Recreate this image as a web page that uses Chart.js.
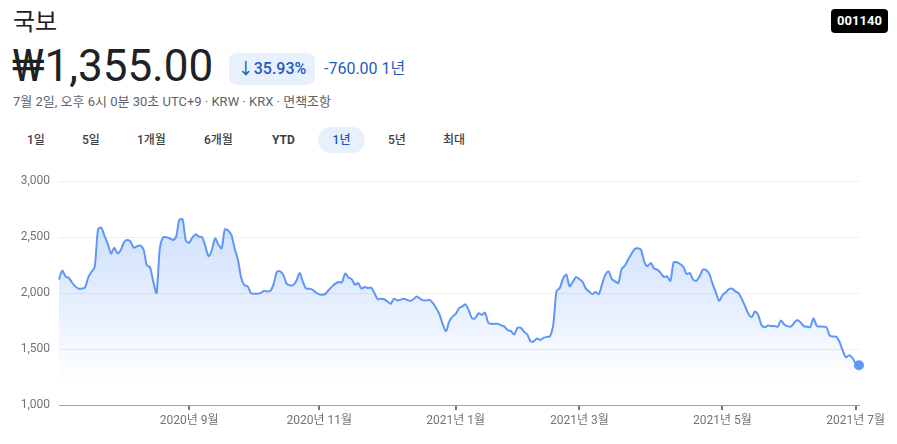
<!DOCTYPE html>
<html>
<head>
<meta charset="utf-8">
<script src="https://cdn.jsdelivr.net/npm/chart.js@4.4.0/dist/chart.umd.min.js"></script>
<style>
body { margin: 0; width: 897px; height: 444px; background: #fff; position: relative; overflow: hidden;
       font-family: Roboto, "Noto Sans CJK KR", sans-serif; color: #202124; }
.abs { position: absolute; white-space: nowrap; }
.name { left: 13px; top: 6px; font-size: 24px; line-height: 32px; }
.price { left: 12px; top: 40px; font-size: 44px; line-height: 52px; }
.badge { left: 229px; top: 53px; width: 86px; height: 32px; border-radius: 8px; background: #e8f0fe;
         color: #1f5bc2; font-size: 16px; font-weight: 500; line-height: 32px; text-align: center; }
.change { left: 324px; top: 53px; color: #1f5bc2; font-size: 16px; line-height: 32px; }
.sub { left: 13px; top: 94px; font-size: 13px; line-height: 16px; color: #5f6368; }
.range { top: 127px; height: 26px; line-height: 26px; font-size: 12px; font-weight: 500; color: #3c4043; }
.sel { background: #e8f0fe; border-radius: 13px; color: #1a56b8; text-align: center; }
.ticker { left: 831px; top: 9px; width: 57px; height: 24px; border-radius: 4px; background: #000; color: #fff;
          font-size: 13px; font-weight: 700; line-height: 24px; text-align: center; }
#wrap { position: absolute; left: 0; top: 165px; width: 897px; height: 279px; }
</style>
</head>
<body>
<div class="abs name">국보</div>
<div class="abs price">₩1,355.00</div>
<div class="abs badge">↓35.93%</div>
<div class="abs change">-760.00 1년</div>
<div class="abs sub">7월 2일, 오후 6시 0분 30초 UTC+9 · KRW · KRX · 면책조항</div>
<div class="abs range" style="left:27px">1일</div>
<div class="abs range" style="left:82px">5일</div>
<div class="abs range" style="left:137px">1개월</div>
<div class="abs range" style="left:204px">6개월</div>
<div class="abs range" style="left:272px;font-weight:700">YTD</div>
<div class="abs range sel" style="left:318px;width:47px">1년</div>
<div class="abs range" style="left:388px">5년</div>
<div class="abs range" style="left:443px">최대</div>
<div class="abs ticker">001140</div>
<div id="wrap"><canvas id="chart"></canvas></div>

<script>
// trading days, KRX calendar
const startDate = "2020-07-06";
const endDate = "2021-07-02";
const holidays = [
    "2020-08-17", "2020-09-30", "2020-10-01", "2020-10-02", "2020-10-09",
    "2020-12-25", "2020-12-31", "2021-01-01", "2021-02-11", "2021-02-12",
    "2021-03-01", "2021-05-05", "2021-05-19"
];

const tickMonths = ["2020-09", "2020-11", "2021-01", "2021-03", "2021-05", "2021-07"];
const tickLabels = ["2020년 9월", "2020년 11월", "2021년 1월", "2021년 3월", "2021년 5월", "2021년 7월"];

// closing prices (KRW)
const prices2020 = [
    2120, 2200, 2150, 2135, 2095, 2060, 2040, 2040, 2050, 2140,
    2190, 2235, 2570, 2585, 2510, 2440, 2355, 2405, 2355, 2385,
    2455, 2475, 2460, 2405, 2420, 2425, 2390, 2250, 2230, 2100,
    2000, 2400, 2500, 2500, 2490, 2475, 2500, 2655, 2660, 2470,
    2450, 2495, 2525, 2505, 2500, 2420, 2330, 2385, 2490, 2435,
    2400, 2570, 2560, 2520, 2400, 2300, 2140, 2070, 2060, 2000,
    1995, 1995, 2000, 2020, 2015, 2020, 2080, 2190, 2195, 2160,
    2085, 2070, 2070, 2110, 2180, 2100, 2040, 2040, 2030, 2005,
    1990, 1985, 1995, 2030, 2060, 2085, 2100, 2095, 2175, 2140,
    2125, 2075, 2090, 2040, 2055, 2045, 2050, 2000, 1945, 1950,
    1945, 1925, 1905, 1950, 1935, 1940, 1950, 1940, 1930, 1945,
    1970, 1950, 1935, 1935, 1940, 1910, 1865, 1810, 1720, 1660,
    1745, 1790
];
const prices2021 = [
    1815, 1865, 1880, 1900, 1845, 1775, 1775, 1820,
    1805, 1825, 1735, 1725, 1725, 1725, 1712, 1700, 1668, 1660,
    1630, 1690, 1690, 1655, 1630, 1570, 1570, 1595, 1580, 1600,
    1608, 1615, 1720, 2020, 2045, 2130, 2165, 2060, 2100, 2145,
    2125, 2100, 2040, 2015, 1990, 2010, 1990, 2080, 2165, 2195,
    2125, 2105, 2090, 2215, 2245, 2300, 2350, 2395, 2400, 2385,
    2280, 2240, 2270, 2220, 2210, 2180, 2145, 2150, 2110, 2275,
    2275, 2260, 2235, 2170, 2180, 2120, 2110, 2150, 2210, 2205,
    2170, 2080, 2005, 1930, 1980, 2005, 2035, 2040, 2015, 2000,
    1945, 1880, 1815, 1785, 1835, 1805, 1715, 1695, 1710, 1705,
    1705, 1700, 1755, 1720, 1705, 1700, 1730, 1760, 1740, 1705,
    1700, 1695, 1775, 1708, 1702, 1700, 1695, 1620, 1612, 1610,
    1565, 1485, 1425, 1445, 1420, 1370, 1355
];

function tradingDays() {
    const out = [];
    const d = new Date(startDate + "T00:00:00Z");
    const end = new Date(endDate + "T00:00:00Z");
    while (d <= end) {
        const wd = d.getUTCDay();
        const s = d.toISOString().slice(0, 10);
        if (wd !== 0 && wd !== 6 && !holidays.includes(s)) out.push(s);
        d.setUTCDate(d.getUTCDate() + 1);
    }
    return out;
}

const dates = tradingDays();
const prices = prices2020.concat(prices2021);

// first trading day of each labelled month
const tickAt = {};
for (let i = 0; i < dates.length; i++) {
    const m = dates[i].slice(0, 7);
    const k = tickMonths.indexOf(m);
    if (k >= 0 && !(m in tickAt)) tickAt[m] = i;
}
function labelFor(i) {
    const m = dates[i].slice(0, 7);
    return tickAt[m] === i ? tickLabels[tickMonths.indexOf(m)] : "";
}

const lineColor = "#5e97f6";
const last = prices.length - 1;

Chart.defaults.font.family = 'Roboto, "Noto Sans CJK KR", sans-serif';

new Chart(document.getElementById("chart"), {
    type: "line",
    data: {
        labels: dates,
        datasets: [{
            data: prices,
            borderColor: lineColor,
            borderWidth: 2,
            tension: 0.25,
            fill: "start",
            clip: false,
            backgroundColor: function (ctx) {
                const area = ctx.chart.chartArea;
                if (!area) return "rgba(66,133,244,0.2)";
                const g = ctx.chart.ctx.createLinearGradient(0, area.top, 0, area.bottom);
                g.addColorStop(0, "rgba(66,133,244,0.30)");
                g.addColorStop(0.45, "rgba(66,133,244,0.17)");
                g.addColorStop(0.9, "rgba(66,133,244,0.0)");
                return g;
            },
            pointRadius: ctx => ctx.dataIndex === last ? 5 : 0,
            pointBackgroundColor: lineColor,
            pointBorderWidth: 0
        }]
    },
    options: {
        responsive: true,
        maintainAspectRatio: false,
        animation: false,
        layout: { padding: { top: 16, right: 38, left: 0, bottom: 0 } },
        plugins: { legend: { display: false }, tooltip: { enabled: false } },
        scales: {
            x: {
                type: "category",
                offset: false,
                afterFit: scale => { scale.height = 39; },
                border: { display: true, color: "#9aa0a6", width: 1 },
                grid: {
                    drawOnChartArea: false,
                    drawTicks: true,
                    tickLength: 5,
                    lineWidth: 2,
                    color: ctx => (ctx.tick && ctx.tick.label) ? "#70757a" : "rgba(0,0,0,0)"
                },
                ticks: {
                    autoSkip: false,
                    maxRotation: 0,
                    padding: 4,
                    color: "#70757a",
                    font: { size: 12 },
                    callback: (v, i) => labelFor(i)
                }
            },
            y: {
                min: 1000,
                max: 3000,
                afterFit: scale => { scale.width = 59; },
                border: { display: false },
                grid: { color: "#eeeeee", drawTicks: false },
                ticks: {
                    stepSize: 500,
                    padding: 9,
                    color: "#70757a",
                    font: { size: 12 },
                    callback: v => v.toLocaleString("en-US")
                }
            }
        }
    }
});
</script>
</body>
</html>
